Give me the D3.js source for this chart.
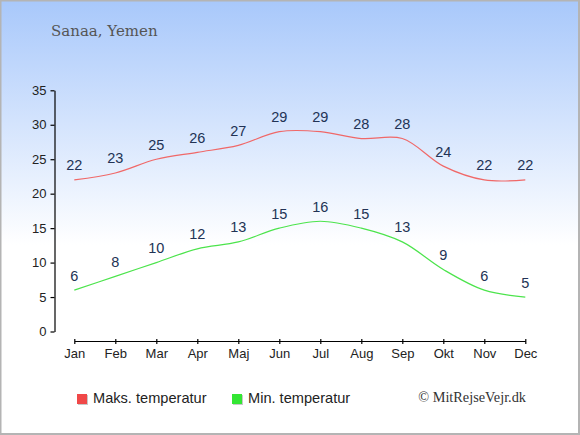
<!DOCTYPE html>
<html>
<head>
<meta charset="utf-8">
<script src="https://cdn.jsdelivr.net/npm/d3@7"></script>
<style>
  body { margin: 0; padding: 0; background: #fff; }
  svg { display: block; }
</style>
</head>
<body>
<div id="chart"></div>
<script>
// chart data
var months = ["Jan", "Feb", "Mar", "Apr", "Maj", "Jun", "Jul", "Aug", "Sep", "Okt", "Nov", "Dec"];
var maxTemp = [22, 23, 25, 26, 27, 29, 29, 28, 28, 24, 22, 22];
var minTemp = [6, 8, 10, 12, 13, 15, 16, 15, 13, 9, 6, 5];
var yTicks = [0, 5, 10, 15, 20, 25, 30, 35];
var title = "Sanaa, Yemen";
var seriesNames = ["Maks. temperatur", "Min. temperatur"];

var width = 580, height = 435;

var svg = d3.select("#chart").append("svg")
    .attr("width", width)
    .attr("height", height);

// background gradient
var grad = svg.append("defs").append("linearGradient")
    .attr("id", "bg")
    .attr("gradientUnits", "userSpaceOnUse")
    .attr("x1", 0).attr("y1", 0).attr("x2", 0).attr("y2", 245);
grad.append("stop").attr("offset", "0%").attr("stop-color", "#a8c8fb");
grad.append("stop").attr("offset", "100%").attr("stop-color", "#ffffff");

svg.append("rect")
    .attr("x", 0).attr("y", 0)
    .attr("width", width).attr("height", height)
    .attr("fill", "url(#bg)");

svg.append("rect")
    .attr("x", 0.5).attr("y", 0.5)
    .attr("width", width - 1.5).attr("height", height - 1.5)
    .attr("fill", "none")
    .attr("stroke", "#b4b4b4")
    .attr("stroke-width", 2);

// title
svg.append("text")
    .attr("x", 51).attr("y", 36)
    .attr("font-family", "DejaVu Serif")
    .attr("font-size", 15)
    .attr("fill", "#555")
    .text(title);

// scales
var x = d3.scalePoint().domain(months).range([74.3, 525.3]);
var y = d3.scaleLinear().domain([0, 35]).range([331.5, 90.3]);

// y axis
var yAxis = svg.append("g")
    .attr("transform", "translate(54.5,0)")
    .call(d3.axisLeft(y).tickValues(yTicks).tickSize(4).tickSizeOuter(0).tickPadding(4));
yAxis.selectAll("text")
    .attr("font-family", "Liberation Sans, Arial")
    .attr("font-size", 13)
    .attr("fill", "#222");
yAxis.selectAll("line, path").attr("stroke", "#000").attr("stroke-width", 1.2);

// x axis
var xAxis = svg.append("g")
    .attr("transform", "translate(0,341)")
    .call(d3.axisBottom(x).tickSize(3).tickSizeOuter(0).tickPadding(5));
xAxis.selectAll(".tick line").attr("y1", -2);
xAxis.selectAll("text")
    .attr("font-family", "Liberation Sans, Arial")
    .attr("font-size", 13)
    .attr("fill", "#222");
xAxis.selectAll("line, path").attr("stroke", "#000").attr("stroke-width", 1.2);

// lines
var line = d3.line()
    .x(function(d, i) { return x(months[i]); })
    .y(function(d) { return y(d); })
    .curve(d3.curveCatmullRom);

var series = [
  { values: maxTemp, color: "#f06868", legend: "#f04848" },
  { values: minTemp, color: "#4ce44c", legend: "#33e633" }
];

series.forEach(function(s) {
  svg.append("path")
      .attr("d", line(s.values))
      .attr("fill", "none")
      .attr("stroke", s.color)
      .attr("stroke-width", 1.2);

  svg.selectAll(null)
      .data(s.values)
      .enter().append("text")
      .attr("x", function(d, i) { return x(months[i]); })
      .attr("y", function(d) { return y(d) - 9.5; })
      .attr("text-anchor", "middle")
      .attr("font-family", "Liberation Sans, Arial")
      .attr("font-size", 14.5)
      .attr("fill", "#223355")
      .text(function(d) { return d; });
});

// legend
var legendX = [77, 232];
series.forEach(function(s, i) {
  svg.append("rect")
      .attr("x", legendX[i] + 1).attr("y", 395)
      .attr("width", 10).attr("height", 10)
      .attr("fill", "#c8c8c8");
  svg.append("rect")
      .attr("x", legendX[i]).attr("y", 394)
      .attr("width", 10).attr("height", 10)
      .attr("fill", s.legend);
  svg.append("text")
      .attr("x", legendX[i] + 16).attr("y", 403)
      .attr("font-family", "Liberation Sans, Arial")
      .attr("font-size", 14.6)
      .attr("fill", "#222")
      .text(seriesNames[i]);
});

svg.append("text")
    .attr("x", 526).attr("y", 402)
    .attr("text-anchor", "end")
    .attr("font-family", "Liberation Serif")
    .attr("font-size", 14.3)
    .attr("fill", "#333")
    .text("\u00a9 MitRejseVejr.dk");
</script>
</body>
</html>
